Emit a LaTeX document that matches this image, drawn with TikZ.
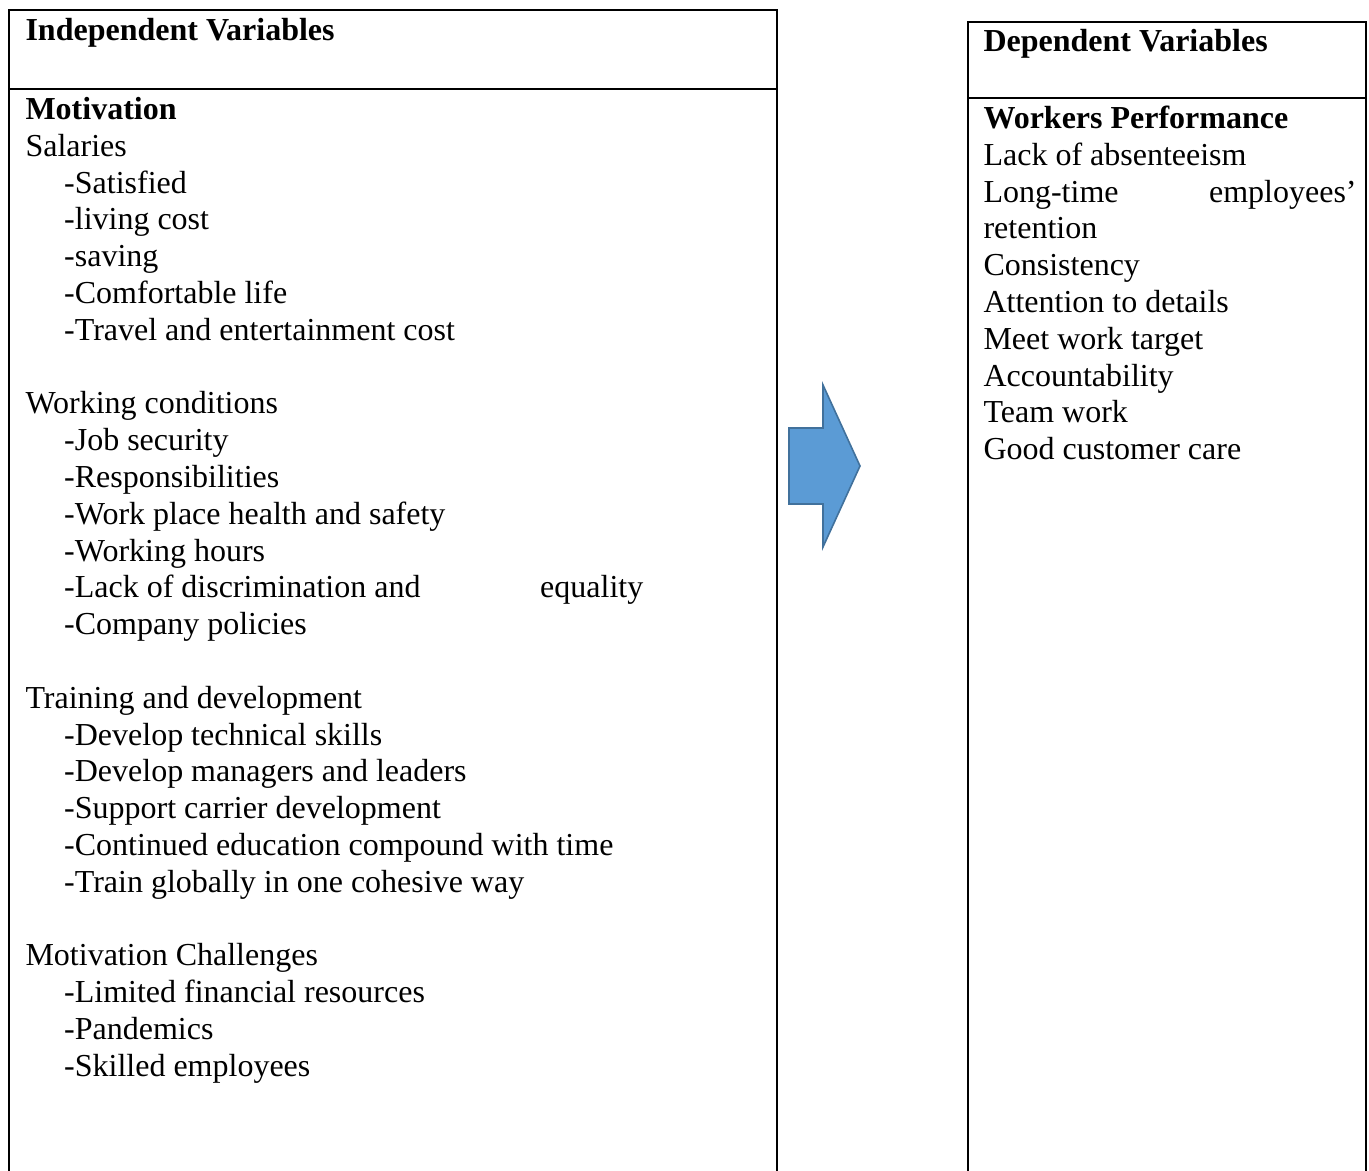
\documentclass[tikz,border=0pt]{standalone}
\usepackage{fontspec}
\setmainfont{Liberation Serif}
\usepackage{tikz}
\usetikzlibrary{positioning}
\usepackage{xcolor}
\definecolor{arrowFill}{HTML}{5B9BD5}
\definecolor{arrowDraw}{HTML}{41719C}
\newcommand{\subline}{\hspace*{14.5pt}}
\tikzset{
    % Frames
    varbox/.style={rectangle, draw=black, line width=0.8pt, inner sep=0pt, outer sep=0pt},
    % Text
    heading/.style={font=\fontsize{12}{13.8}\selectfont\bfseries, inner sep=0pt, anchor=base west},
    varlist/.style={font=\fontsize{12}{13.8}\selectfont, inner sep=0pt, align=left,
                    anchor=north west, execute at begin node={\spaceskip=0pt\xspaceskip=0pt\strut}},
    % Arrow
    bigArrow/.style={fill=arrowFill, draw=arrowDraw, line width=0.6pt, line join=miter}
}
\begin{document}
\begin{tikzpicture}[x=0.375pt, y=-0.375pt]
\useasboundingbox (0,0) rectangle (1369,1171);
\clip (0,0) rectangle (1369,1171);

% independent side
\node[varbox, anchor=north west, minimum width=288pt, minimum height=29.625pt] (indhead) at (9,10) {};
\node[varbox, below=0pt of indhead, minimum width=288pt, minimum height=416.6pt] (indbody) {};
% dependent side
\node[varbox, anchor=north west, minimum width=149.25pt, minimum height=28.5pt] (dephead) at (968,22) {};
\node[varbox, below=0pt of dephead, minimum width=149.25pt, minimum height=413.25pt] (depbody) {};

\node[heading] (indtitle) at (25,41) {Independent Variables};
\node[heading] (deptitle) at (983,52) {Dependent Variables};

\node[varlist, text width=270pt] (indlist) at (25,93.2) {%
{\bfseries Motivation}\\
Salaries\\
\subline-Satisfied\\
\subline-living cost\\
\subline-saving\\
\subline-Comfortable life\\
\subline-Travel and entertainment cost\\[13.8pt]
Working conditions\\
\subline-Job security\\
\subline-Responsibilities\\
\subline-Work place health and safety\\
\subline-Working hours\\
\subline\makebox[178.5pt][l]{-Lack of discrimination and}equality\\
\subline-Company policies\\[13.8pt]
Training and development\\
\subline-Develop technical skills\\
\subline-Develop managers and leaders\\
\subline-Support carrier development\\
\subline-Continued education compound with time\\
\subline-Train globally in one cohesive way\\[13.8pt]
Motivation Challenges\\
\subline-Limited financial resources\\
\subline-Pandemics\\
\subline-Skilled employees};

\node[varlist, text width=139.9pt] (deplist) at (983,102.2) {%
{\bfseries Workers Performance}\\
Lack of absenteeism\\
\makebox[139.9pt][l]{Long-time\hfill employees’}\\
retention\\
Consistency\\
Attention to details\\
Meet work target\\
Accountability\\
Team work\\
Good customer care};

% block arrow between the columns
\draw[bigArrow] (789,428) -- (823,428) -- (823,385) -- (860,466) -- (823,547)
    -- (823,504) -- (789,504) -- cycle;

\end{tikzpicture}
\end{document}
